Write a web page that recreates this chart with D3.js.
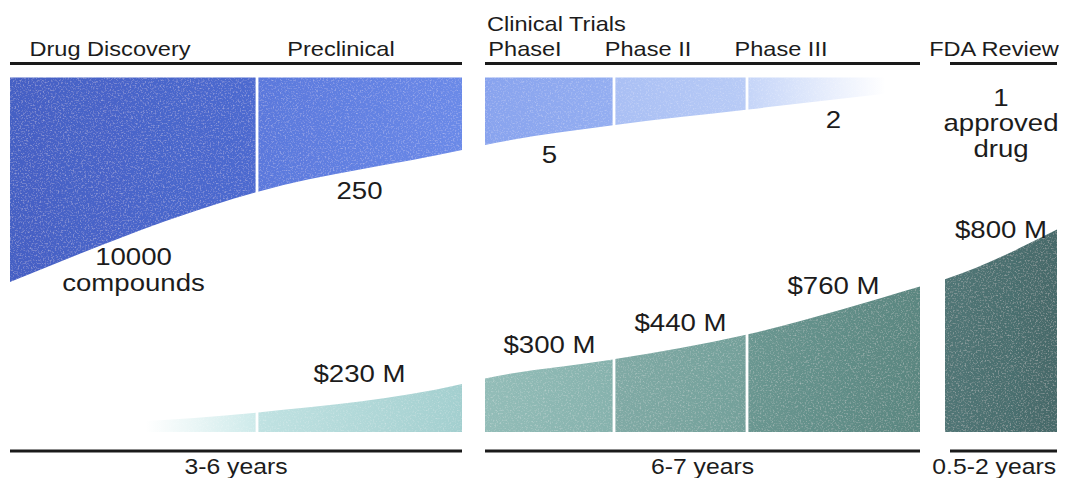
<!DOCTYPE html>
<html>
<head>
<meta charset="utf-8">
<script src="https://cdn.jsdelivr.net/npm/d3@7"></script>
<style>
  body { margin: 0; background: #fff; }
  text { font-family: "Liberation Sans", Arial, Helvetica, sans-serif; fill: #1c1c1c; }
</style>
</head>
<body>
<svg id="chart" width="1065" height="478"></svg>
<script>
// ---- Pipeline data ----------------------------------------------------
const stages = ["Drug Discovery", "Preclinical", "Phase I", "Phase II", "Phase III", "FDA Review"];
const stageHeaders = ["Drug Discovery", "Preclinical", "PhaseI", "Phase II", "Phase III", "FDA Review"];
const stageGroup = [0, 0, 1, 1, 1, 2];
const groupTitles = ["", "Clinical Trials", ""];
const groupDurations = ["3-6 years", "6-7 years", "0.5-2 years"];

// Candidate compounds remaining at each stage (null = no label)
const compoundCounts = [10000, 250, 5, null, 2, 1];
const compoundNotes = [["compounds"], [], [], [], [], ["approved", "drug"]];

// Depth of the candidate funnel at each stage boundary (1 = initial screening pool)
const funnelDepth = [1.0, 0.56, 0.355, 0.33, 0.233, 0.157, 0.06];

// Cumulative spend ($ M) at each stage boundary
const cumulativeCost = [0, 75, 230, 260, 365, 500, 760, 800, 1070];

// Cost quoted for each stage ($ M, null = no label)
const stageCost = [null, 230, 300, 440, 760, 800];

// ---- Layout -----------------------------------------------------------
const W = 1065, H = 478;
const boundaryX = [10, 257, 462, 485, 614, 747, 920, 945, 1057];
const headerCenters = [110, 341, 525, 648, 781, 994];
const lineInset = [0, 0, 5];
const stretch = 1.15;           // horizontally widened lettering
const bandTop = 77.5, funnelBottom = 282, costBase = 432;
const topRuleY = 63.5, bottomRuleY = 451;
const numSize = 24, lineStep = 25.5;

const blueStops = [
  ["#4560c4", "#4d6ad0"],
  ["#5a78dc", "#6b8ae8"],
  ["#88a3ee", "#94aef1"],
  ["#a9bff4", "#b8cbf6"],
  ["#c4d4f8", "#ffffff"]
];
const greenStops = [
  ["#ffffff", "#cdeaea"],
  ["#c0e2e2", "#a3cfcf"],
  ["#93bdb8", "#86b2ad"],
  ["#80aaa5", "#73a09a"],
  ["#6a9791", "#5a8680"],
  ["#517676", "#466a6a"]
];

const svg = d3.select("#chart");
const defs = svg.append("defs");

// faint speckle over the filled bands
const grain = defs.append("filter").attr("id", "grain")
  .attr("filterUnits", "userSpaceOnUse")
  .attr("x", 0).attr("y", 0).attr("width", W).attr("height", H);
grain.append("feTurbulence").attr("type", "fractalNoise")
  .attr("baseFrequency", 0.6).attr("numOctaves", 2).attr("seed", 7).attr("result", "noise");
grain.append("feColorMatrix").attr("in", "noise").attr("type", "matrix")
  .attr("values", "0 0 0 0 1  0 0 0 0 1  0 0 0 0 1  0.7 0 0 0 -0.36").attr("result", "speck");
grain.append("feComposite").attr("in", "speck").attr("in2", "SourceGraphic")
  .attr("operator", "in").attr("result", "speckIn");
const merge = grain.append("feMerge");
merge.append("feMergeNode").attr("in", "SourceGraphic");
merge.append("feMergeNode").attr("in", "speckIn");

const x = d3.scaleLinear().domain(d3.range(boundaryX.length)).range(boundaryX);
const yDepth = d3.scaleLinear().domain([0, 1]).range([bandTop, funnelBottom]);
const yCost = d3.scaleLinear().domain([0, 1000]).range([426.4, 242.4]);

// boundary index where each stage starts
const stageStart = stages.map((s, i) => i + stageGroup[i]);

const funnelArea = d3.area()
  .x((d, i) => x(i))
  .y0(bandTop)
  .y1(d => yDepth(d))
  .curve(d3.curveMonotoneX);

const costArea = d3.area()
  .x((d, i) => x(i))
  .y0(costBase)
  .y1(d => yCost(d))
  .curve(d3.curveMonotoneX);

// clip each stage to its own column, leaving a thin white seam between neighbours
const seam = 1.4;
stages.forEach((s, i) => {
  const a = stageStart[i], b = a + 1;
  const left = x(a) + (i > 0 && stageGroup[i - 1] === stageGroup[i] ? seam : 0);
  const right = x(b) - (i < stages.length - 1 && stageGroup[i + 1] === stageGroup[i] ? seam : 0);
  defs.append("clipPath").attr("id", "clip-" + i)
    .append("rect").attr("x", left).attr("y", 0).attr("width", right - left).attr("height", H);
});

function gradient(id, i, stops, fadeAt) {
  const a = stageStart[i];
  const g = defs.append("linearGradient").attr("id", id)
    .attr("gradientUnits", "userSpaceOnUse")
    .attr("x1", x(a)).attr("x2", x(a + 1)).attr("y1", 0).attr("y2", 0);
  g.append("stop").attr("offset", fadeAt ? fadeAt[0] : 0).attr("stop-color", stops[0]);
  g.append("stop").attr("offset", fadeAt ? fadeAt[1] : 1).attr("stop-color", stops[1]);
}

// ---- Funnel of candidate compounds (blue) ----------------------------
const funnel = svg.append("g").attr("filter", "url(#grain)");
blueStops.forEach((st, i) => {
  gradient("blue-" + i, i, st, i === 4 ? [0, 0.8] : null);
  funnel.append("path")
    .attr("d", funnelArea(funnelDepth))
    .attr("clip-path", `url(#clip-${i})`)
    .attr("fill", `url(#blue-${i})`);
});

// ---- Cumulative cost (green) -------------------------------------------
const cost = svg.append("g").attr("filter", "url(#grain)");
greenStops.forEach((st, i) => {
  gradient("green-" + i, i, st, i === 0 ? [0.55, 1] : null);
  cost.append("path")
    .attr("d", costArea(cumulativeCost))
    .attr("clip-path", `url(#clip-${i})`)
    .attr("fill", `url(#green-${i})`);
});

// ---- Text helpers -----------------------------------------------------
function label(g, cx, baseline, str, size, anchor = "middle") {
  return g.append("text")
    .attr("transform", `translate(${cx},${baseline}) scale(${stretch},1)`)
    .attr("text-anchor", anchor)
    .attr("font-size", size)
    .text(str);
}

const texts = svg.append("g");

// ---- Group rules, titles and durations ---------------------------------
const groups = d3.range(groupDurations.length).map(gi => {
  const idx = stages.map((s, i) => i).filter(i => stageGroup[i] === gi);
  return { x0: x(stageStart[idx[0]]) + lineInset[gi], x1: x(stageStart[idx[idx.length - 1]] + 1) };
});

groups.forEach((g, gi) => {
  [topRuleY, bottomRuleY].forEach(yy => {
    svg.append("line")
      .attr("x1", g.x0).attr("x2", g.x1).attr("y1", yy).attr("y2", yy)
      .attr("stroke", "#1a1a1a").attr("stroke-width", 3);
  });
  const t = label(texts, (g.x0 + g.x1) / 2, 474, groupDurations[gi], 21.5);
  // keep the duration inside the page
  const half = t.node().getComputedTextLength() * stretch / 2;
  const cx = Math.min((g.x0 + g.x1) / 2, W - 9 - half);
  t.attr("transform", `translate(${cx},474) scale(${stretch},1)`);
  if (groupTitles[gi]) label(texts, g.x0 + 2, 31, groupTitles[gi], 20.5, "start");
});

// ---- Stage headers ----------------------------------------------------
stageHeaders.forEach((h, i) => label(texts, headerCenters[i], 56, h, 20.5));

// ---- Compound counts, under the funnel --------------------------------
compoundCounts.forEach((n, i) => {
  if (n == null) return;
  const a = stageStart[i];
  const mid = (x(a) + x(a + 1)) / 2;
  const depth = a + 1 < funnelDepth.length ? (funnelDepth[a] + funnelDepth[a + 1]) / 2 : 0;
  const base = yDepth(depth) + 28;
  label(texts, mid, base, String(n), numSize);
  compoundNotes[i].forEach((line, k) => label(texts, mid, base + lineStep * (k + 1), line, numSize));
});

// ---- Stage costs, above the cost band -----------------------------------
stageCost.forEach((c, i) => {
  if (c == null) return;
  const a = stageStart[i];
  const mid = (x(a) + x(a + 1)) / 2;
  const top = yCost((cumulativeCost[a] + cumulativeCost[a + 1]) / 2);
  label(texts, mid, top - 16, `$${c} M`, numSize);
});
</script>
</body>
</html>
